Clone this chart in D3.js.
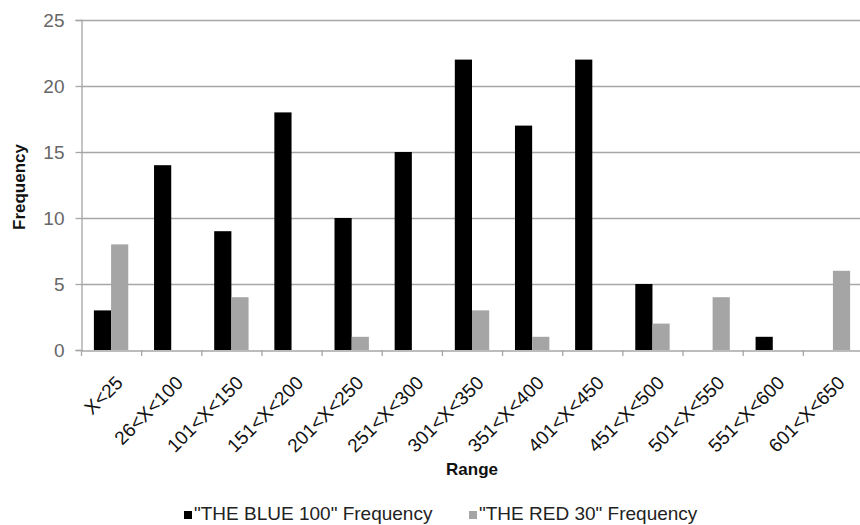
<!DOCTYPE html>
<html><head><meta charset="utf-8">
<script src="https://cdn.jsdelivr.net/npm/d3@7"></script>
<style>body{margin:0;background:#fff;overflow:hidden}svg{display:block}</style>
</head><body>
<svg id="c" width="860" height="525"></svg>
<script>
const categories = ["X<25","26<X<100","101<X<150","151<X<200","201<X<250","251<X<300","301<X<350","351<X<400","401<X<450","451<X<500","501<X<550","551<X<600","601<X<650"];
const blueValues = [3,14,9,18,10,15,22,17,22,5,0,1,0];
const redValues = [8,0,4,0,1,0,3,1,0,2,4,0,6];
const seriesNames = ["\"THE BLUE 100\" Frequency","\"THE RED 30\" Frequency"];
const yTicks = [0,5,10,15,20,25];

const FONT = "Liberation Sans, Arial, sans-serif";
const svg = d3.select("#c");
const mLeft = 81, mRight = 863, mTop = 20, mBottom = 350;
const x = d3.scaleBand().domain(categories).range([mLeft, mRight]).paddingInner(0).paddingOuter(0);
const y = d3.scaleLinear().domain([0,25]).range([mBottom, mTop]);
const bw = x.bandwidth()/3.5;

// gridlines
svg.append("g").selectAll("line").data(yTicks.filter(d=>d>0)).join("line")
  .attr("x1", mLeft).attr("x2", 860).attr("y1", d=>y(d)+0.5).attr("y2", d=>y(d)+0.5)
  .attr("stroke", "#a6a6a6").attr("stroke-width", 1.3);

const series = [{name: seriesNames[0], values: blueValues, color: "#000"},
                {name: seriesNames[1], values: redValues, color: "#a5a5a5"}];
series.forEach((s, si) => {
  svg.append("g").selectAll("rect").data(categories).join("rect")
    .attr("x", (d) => x(d) + 0.75*bw + si*bw)
    .attr("width", bw)
    .attr("y", (d,i) => y(s.values[i]))
    .attr("height", (d,i) => y(0) - y(s.values[i]))
    .attr("fill", s.color);
});

// y axis
const yAxis = d3.axisLeft(y).tickValues(yTicks).tickSize(6).tickPadding(11);
const gy = svg.append("g").attr("transform", `translate(${mLeft+0.5},0)`).call(yAxis);
gy.select(".domain").attr("stroke", "#a6a6a6").attr("stroke-width",1.3);
gy.selectAll(".tick line").attr("stroke", "#a6a6a6").attr("stroke-width",1.3);
gy.selectAll("text").attr("font-family", FONT).attr("font-size", 19).attr("fill", "#666");

// x axis
const xAxis = d3.axisBottom(x).tickSize(0).tickFormat("");
const gx = svg.append("g").attr("transform", `translate(0,${mBottom+0.5})`).call(xAxis);
gx.select(".domain").attr("stroke", "#a6a6a6").attr("stroke-width",1.3);
// category boundary ticks
svg.append("g").selectAll("line").data(categories).join("line")
  .attr("x1", d=>x(d)+0.5).attr("x2", d=>x(d)+0.5).attr("y1", mBottom).attr("y2", mBottom+6)
  .attr("stroke", "#a6a6a6").attr("stroke-width",1.3);
svg.append("g").selectAll("text").data(categories).join("text")
  .attr("transform", d => `translate(${x(d)+x.bandwidth()/2+13},${mBottom+34}) rotate(-45)`)
  .attr("text-anchor", "end")
  .attr("font-family", FONT).attr("font-size", 19).attr("fill", "#111")
  .text(d => d);

// axis titles
svg.append("text").attr("transform", "translate(25,187) rotate(-90)")
  .attr("text-anchor", "middle").attr("font-family", FONT)
  .attr("font-size", 17).attr("font-weight", "bold").attr("fill", "#111").text("Frequency");
svg.append("text").attr("x", (mLeft+mRight)/2).attr("y", 475)
  .attr("text-anchor", "middle").attr("font-family", FONT)
  .attr("font-size", 17).attr("font-weight", "bold").attr("fill", "#111").text("Range");

// legend
const legendX = [184, 469];
series.forEach((s, i) => {
  const g = svg.append("g").attr("transform", `translate(${legendX[i]},520)`);
  g.append("rect").attr("x", 0).attr("y", -9).attr("width", 8).attr("height", 8).attr("fill", s.color);
  g.append("text").attr("x", 10).attr("y", 0).attr("font-family", FONT)
    .attr("font-size", 19).attr("fill", "#222").text(s.name);
});
</script>
</body></html>
